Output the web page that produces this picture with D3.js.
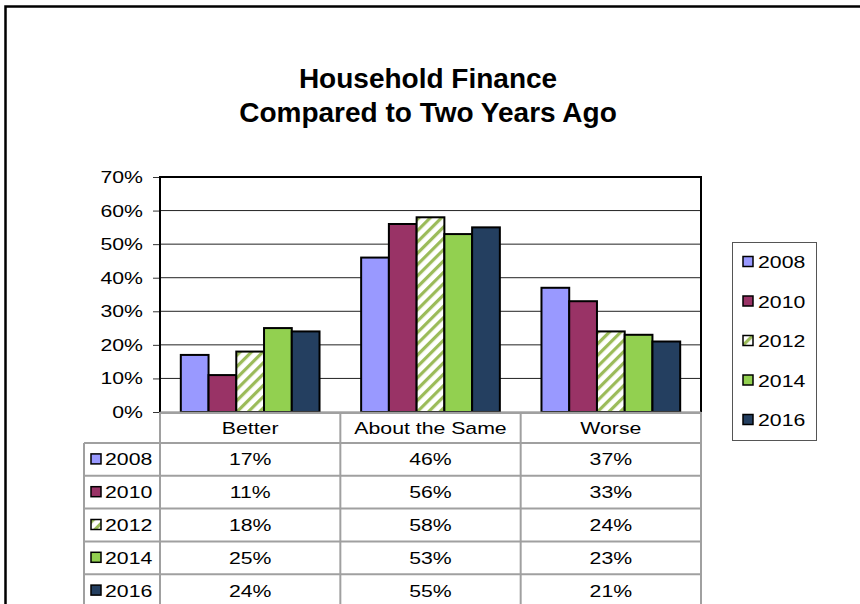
<!DOCTYPE html>
<html>
<head>
<meta charset="utf-8">
<script src="https://cdn.jsdelivr.net/npm/d3@7"></script>
<style>
  html, body { margin: 0; padding: 0; background: #fff; }
  svg { display: block; }
  text { font-family: "Liberation Sans", Arial, sans-serif; fill: #000; }
</style>
</head>
<body>
<svg id="chart" width="860" height="604"></svg>
<script>
// Survey answers per year, share of households
const categories = ["Better", "About the Same", "Worse"];
const years = ["2008", "2010", "2012", "2014", "2016"];
const values2008 = [0.17, 0.46, 0.37];
const values2010 = [0.11, 0.56, 0.33];
const values2012 = [0.18, 0.58, 0.24];
const values2014 = [0.25, 0.53, 0.23];
const values2016 = [0.24, 0.55, 0.21];
const yTicks = [0, 0.1, 0.2, 0.3, 0.4, 0.5, 0.6, 0.7];
const titleLines = ["Household Finance", "Compared to Two Years Ago"];

const seriesValues = [values2008, values2010, values2012, values2014, values2016];
const fills = ["#9999ff", "#993366", "url(#stripes)", "#92d050", "#243f60"];

const svg = d3.select("#chart");
const W = 860, H = 604;
const TX = 1.25; // horizontal stretch applied to body text

// diagonal stripe fill for the 2012 series
const defs = svg.append("defs");
const pat = defs.append("pattern")
  .attr("id", "stripes")
  .attr("patternUnits", "userSpaceOnUse")
  .attr("width", 8).attr("height", 8)
  .attr("patternTransform", "rotate(45)");
pat.append("rect").attr("width", 8).attr("height", 8).attr("fill", "#fff");
pat.append("rect").attr("width", 3.2).attr("height", 8).attr("fill", "#9bbb59");

svg.append("rect").attr("width", W).attr("height", H).attr("fill", "#fff");

// outer chart frame (left and top edges visible)
svg.append("path")
  .attr("d", `M5.5,${H} V6.5 H${W}`)
  .attr("fill", "none").attr("stroke", "#000").attr("stroke-width", 2.5);

function stretchedText(g, x, y, str, opts = {}) {
  const sx = opts.sx === undefined ? TX : opts.sx;
  return g.append("text")
    .attr("transform", `translate(${x},${y}) scale(${sx},1)`)
    .attr("text-anchor", opts.anchor || "start")
    .style("font-size", (opts.size || 17) + "px")
    .style("font-weight", opts.weight || "normal")
    .text(str);
}

// title
titleLines.forEach((t, i) => {
  stretchedText(svg, 428, 88 + i * 34, t, { anchor: "middle", size: 28, weight: "bold", sx: 1 });
});

// scales
const plot = { left: 160, right: 701, top: 177, bottom: 412 };
const x0 = d3.scaleBand().domain(categories).range([plot.left, plot.right]);
const barW = x0.bandwidth() / (years.length + 1.5);
const x1 = d3.scaleBand().domain(years)
  .range([barW * 0.75, x0.bandwidth() - barW * 0.75]);
const y = d3.scaleLinear().domain([0, 0.7]).range([plot.bottom, plot.top]);

// gridlines
svg.append("g").selectAll("line").data(yTicks.slice(1)).join("line")
  .attr("x1", plot.left).attr("x2", plot.right)
  .attr("y1", d => y(d)).attr("y2", d => y(d))
  .attr("stroke", "#222").attr("stroke-width", 1);

// y axis with ticks and percent labels
const yAxis = svg.append("g").attr("transform", `translate(${plot.left},0)`)
  .call(d3.axisLeft(y).tickValues(yTicks).tickSize(7).tickFormat(d3.format(".0%")));
yAxis.select(".domain").remove();
yAxis.selectAll(".tick line").attr("stroke", "#333").attr("stroke-width", 1);
yAxis.selectAll(".tick text").remove();
yTicks.forEach(t => stretchedText(yAxis, -17, y(t) + 6, d3.format(".0%")(t), { anchor: "end" }));

// bars
const groups = svg.append("g").selectAll("g").data(categories).join("g")
  .attr("transform", d => `translate(${x0(d)},0)`);
groups.selectAll("rect")
  .data((c, ci) => years.map((yr, si) => ({ yr, si, v: seriesValues[si][ci] })))
  .join("rect")
  .attr("x", d => x1(d.yr))
  .attr("width", x1.bandwidth())
  .attr("y", d => y(d.v))
  .attr("height", d => y(0) - y(d.v))
  .attr("fill", d => fills[d.si])
  .attr("stroke", "#000").attr("stroke-width", 2);

// plot area border: left axis, top and right edges
svg.append("path")
  .attr("d", `M${plot.left},${plot.bottom} V${plot.top} H${plot.right} V${plot.bottom}`)
  .attr("fill", "none").attr("stroke", "#000").attr("stroke-width", 2);
svg.append("line")
  .attr("x1", plot.left).attr("x2", plot.right)
  .attr("y1", plot.bottom).attr("y2", plot.bottom)
  .attr("stroke", "#777").attr("stroke-width", 1);

// data table beneath the plot
const table = svg.append("g");
const tblLeft = 84;
const headerBottom = 443;
const rowH = 32.8;
const rowY = d3.scaleLinear().domain([0, 1]).range([headerBottom, headerBottom + rowH]);
const gridColor = "#a0a0a0";

// header row line
table.append("line").attr("x1", plot.left).attr("x2", plot.right)
  .attr("y1", plot.bottom + 1).attr("y2", plot.bottom + 1)
  .attr("stroke", gridColor).attr("stroke-width", 2);
// row lines
d3.range(years.length + 1).forEach(i => {
  table.append("line").attr("x1", tblLeft).attr("x2", plot.right)
    .attr("y1", rowY(i)).attr("y2", rowY(i))
    .attr("stroke", gridColor).attr("stroke-width", 2);
});
// column lines
[plot.left, x0("About the Same"), x0("Worse"), plot.right].forEach(xv => {
  table.append("line").attr("x1", xv).attr("x2", xv)
    .attr("y1", plot.bottom).attr("y2", H)
    .attr("stroke", gridColor).attr("stroke-width", 2);
});
table.append("line").attr("x1", tblLeft).attr("x2", tblLeft)
  .attr("y1", headerBottom).attr("y2", H)
  .attr("stroke", gridColor).attr("stroke-width", 2);

// category headers
categories.forEach(c => {
  stretchedText(table, x0(c) + x0.bandwidth() / 2, 434, c, { anchor: "middle" });
});

// rows: legend key, year, values
years.forEach((yr, si) => {
  const cy = rowY(si) + rowH / 2;
  table.append("rect")
    .attr("x", 91).attr("y", cy - 5.5).attr("width", 10).attr("height", 10)
    .attr("fill", fills[si]).attr("stroke", "#000").attr("stroke-width", 1.5);
  stretchedText(table, 105, cy + 6, yr);
  categories.forEach((c, ci) => {
    stretchedText(table, x0(c) + x0.bandwidth() / 2, cy + 6,
      d3.format(".0%")(seriesValues[si][ci]), { anchor: "middle" });
  });
});

// legend box
const legend = svg.append("g");
legend.append("rect")
  .attr("x", 732.5).attr("y", 242.5).attr("width", 84).attr("height", 198)
  .attr("fill", "#fff").attr("stroke", "#555").attr("stroke-width", 1);
const legY = d3.scalePoint().domain(years).range([262, 420]);
years.forEach((yr, si) => {
  const cy = legY(yr);
  legend.append("rect")
    .attr("x", 743).attr("y", cy - 5.5).attr("width", 10).attr("height", 10)
    .attr("fill", fills[si]).attr("stroke", "#000").attr("stroke-width", 1.5);
  stretchedText(legend, 758, cy + 6, yr);
});
</script>
</body>
</html>
